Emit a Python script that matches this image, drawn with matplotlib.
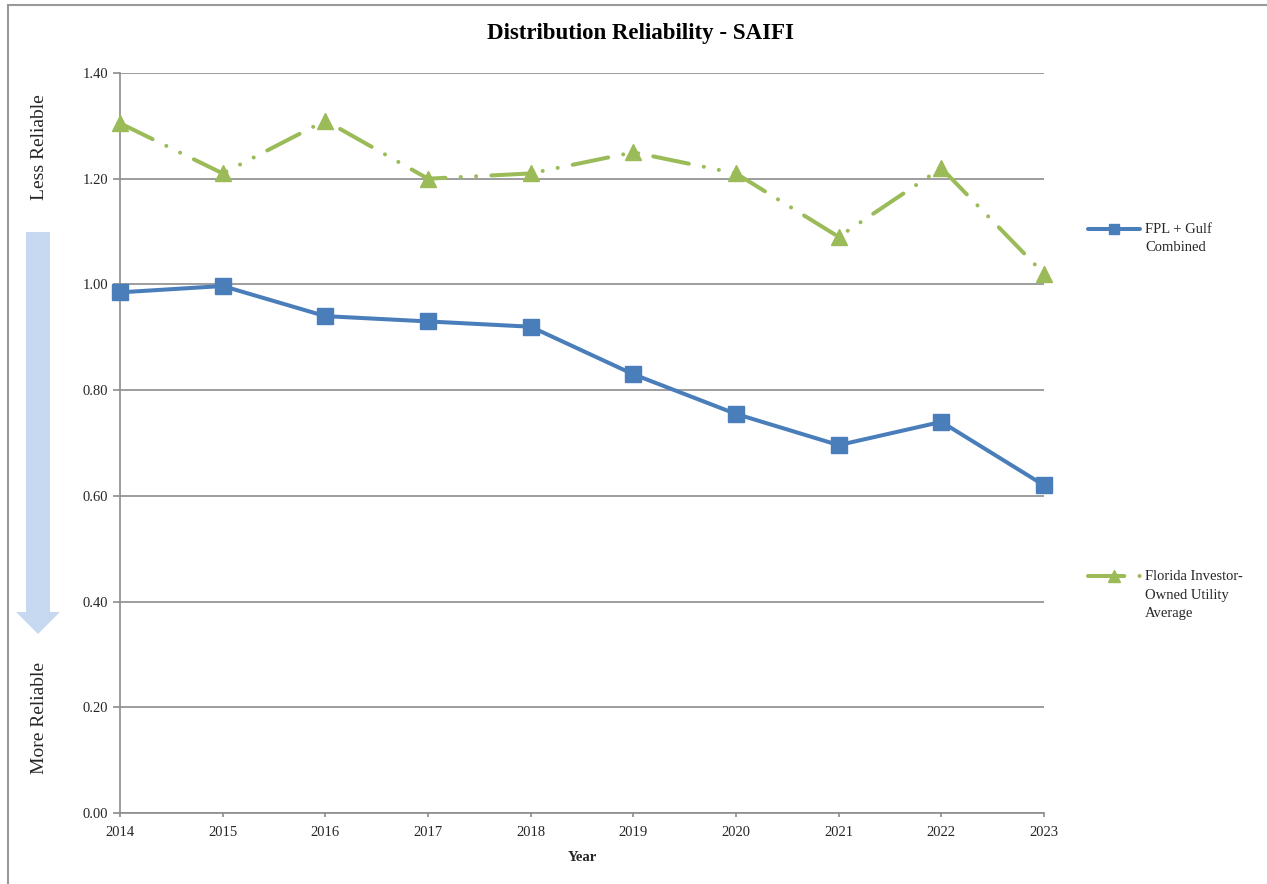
import matplotlib
matplotlib.use("Agg")
import matplotlib.pyplot as plt
from matplotlib.lines import Line2D
from matplotlib.patches import Polygon, Rectangle

years = [2014, 2015, 2016, 2017, 2018, 2019, 2020, 2021, 2022, 2023]
fpl_gulf = [0.985, 0.997, 0.94, 0.93, 0.92, 0.83, 0.755, 0.696, 0.74, 0.62]
fl_iou_avg = [1.305, 1.21, 1.31, 1.20, 1.21, 1.25, 1.21, 1.09, 1.22, 1.02]
yticks = [0.0, 0.2, 0.4, 0.6, 0.8, 1.0, 1.2, 1.4]

BLUE = "#4a7ebb"
GREEN = "#9bbb59"
GRAY = "#8c8c8c"
TXT = "#262626"
DASH = (0, (9, 3.8, 0.01, 3.8, 0.01, 3.8))

plt.rcParams["font.family"] = ["Liberation Serif", "DejaVu Serif"]

W, H = 1267, 884
fig = plt.figure(figsize=(W / 100, H / 100), dpi=100)


def fx(px):
    return px / W


def fy(py):
    return 1 - py / H


# outer chart border (right and bottom edges fall outside the image)
fig.patches.append(Rectangle((fx(8), fy(900)), fx(1300), fy(5) - fy(900),
                             transform=fig.transFigure, fill=False,
                             edgecolor="#999999", linewidth=1.5))

ax = fig.add_axes([fx(120), fy(813), fx(1044) - fx(120), fy(73) - fy(813)])

ax.plot(years, fpl_gulf, color=BLUE, linewidth=2.9, marker="s",
        markersize=11, zorder=3, clip_on=False)
ax.plot(years, fl_iou_avg, color=GREEN, linewidth=2.9, linestyle=DASH,
        dash_capstyle="round", marker="^", markersize=12, zorder=3,
        clip_on=False)

ax.set_xlim(2014, 2023)
ax.set_ylim(0, 1.4)
ax.set_xticks(years)
ax.set_yticks(yticks)
ax.set_yticklabels([f"{v:.2f}" for v in yticks])
ax.yaxis.grid(True, color=GRAY, linewidth=1.2)
ax.set_axisbelow(True)
for s in ("top", "right"):
    ax.spines[s].set_visible(False)
for s in ("left", "bottom"):
    ax.spines[s].set_color(GRAY)
    ax.spines[s].set_linewidth(1.2)
ax.tick_params(axis="both", direction="out", color=GRAY, labelsize=10.5,
               width=1.2, labelcolor=TXT)
ax.tick_params(axis="y", length=5)
ax.tick_params(axis="x", length=3, pad=6)
ax.set_xlabel("Year", fontsize=10.5, fontweight="bold", labelpad=9,
              color=TXT)

fig.text(fx(641), fy(33), "Distribution Reliability - SAIFI", ha="center",
         va="center", fontsize=16.5, fontweight="bold")

# reliability arrow on the left
arrow = [(26, 232), (50, 232), (50, 612), (60, 612), (38, 634), (16, 612),
         (26, 612)]
fig.patches.append(Polygon([(fx(x), fy(y)) for x, y in arrow],
                           transform=fig.transFigure, facecolor="#c6d9f1",
                           edgecolor="none"))
fig.text(fx(40), fy(147), "Less Reliable", rotation=90, ha="center",
         va="center", fontsize=14, color=TXT)
fig.text(fx(40), fy(718), "More Reliable", rotation=90, ha="center",
         va="center", fontsize=14, color=TXT)

# legend drawn on the right
fig.add_artist(Line2D([fx(1088), fx(1114), fx(1140)],
                      [fy(229), fy(229), fy(229)],
                      transform=fig.transFigure, color=BLUE, linewidth=2.9,
                      marker="s", markersize=7, markevery=[1],
                      solid_capstyle="round"))
fig.add_artist(Line2D([fx(1088), fx(1114), fx(1140)],
                      [fy(576), fy(576), fy(576)],
                      transform=fig.transFigure, color=GREEN, linewidth=2.9,
                      linestyle=DASH, dash_capstyle="round",
                      marker="^", markersize=8, markevery=[1]))
fig.text(fx(1145), fy(239), "FPL + Gulf\nCombined", ha="left", va="center",
         fontsize=10.5, linespacing=1.5, color=TXT)
fig.text(fx(1145), fy(595), "Florida Investor-\nOwned Utility\nAverage",
         ha="left", va="center", fontsize=10.5, linespacing=1.5, color=TXT)

fig.savefig("out.png", dpi=100)
